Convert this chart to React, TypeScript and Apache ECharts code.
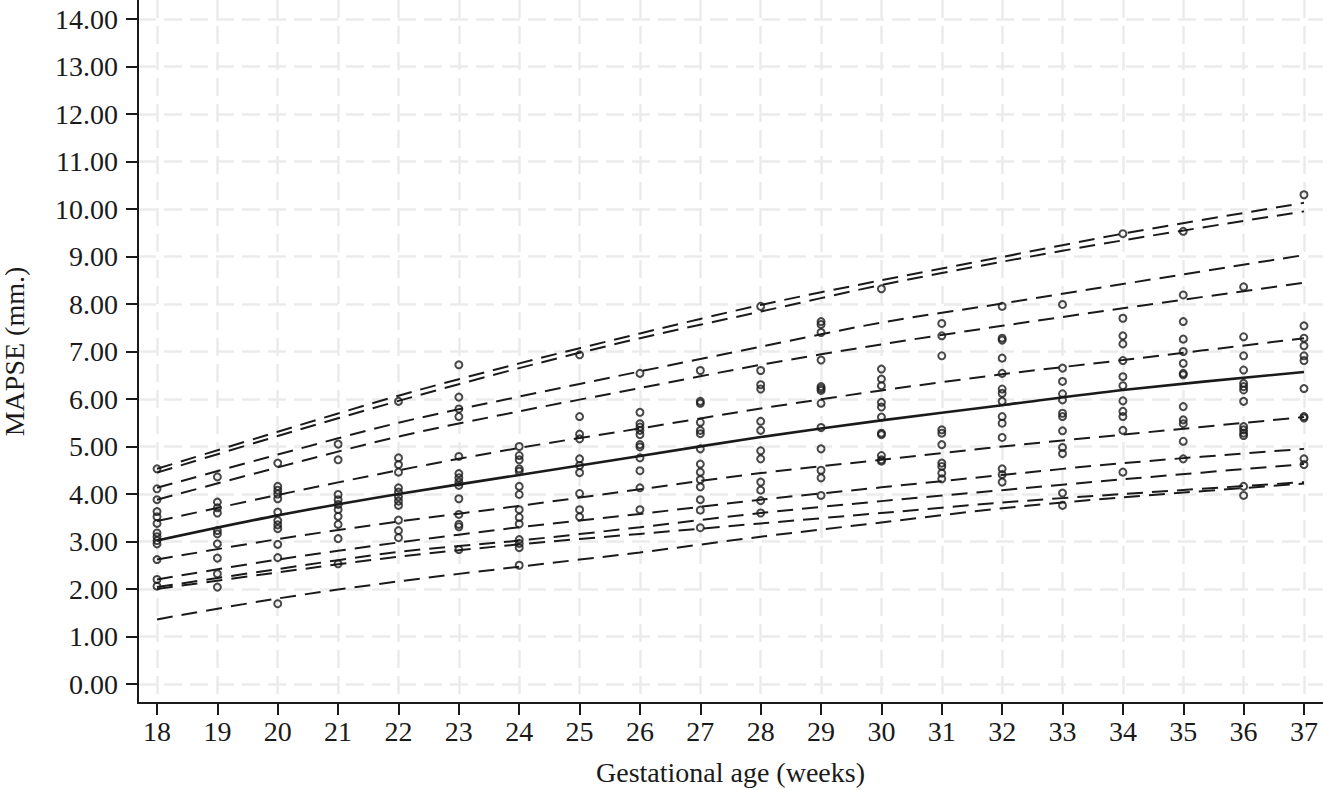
import { useEffect, useRef } from 'react';
import * as echarts from 'echarts';

// gestational weeks on the x axis
const weeks = [18, 19, 20, 21, 22, 23, 24, 25, 26, 27, 28, 29, 30, 31, 32, 33, 34, 35, 36, 37];

// observed MAPSE (mm) per week, same order as weeks
const mapseByWeek: number[][] = [
    [4.53, 4.11, 3.88, 3.63, 3.52, 3.38, 3.18, 3.10, 3.02, 2.95, 2.62, 2.20, 2.06],
    [4.36, 3.83, 3.71, 3.60, 3.23, 3.16, 2.95, 2.65, 2.32, 2.04],
    [4.65, 4.16, 4.08, 4.00, 3.90, 3.62, 3.44, 3.35, 3.27, 2.94, 2.66, 1.69],
    [5.05, 4.72, 3.99, 3.88, 3.78, 3.67, 3.53, 3.36, 3.06, 2.53],
    [5.95, 4.76, 4.62, 4.46, 4.13, 4.04, 3.94, 3.85, 3.76, 3.45, 3.23, 3.08],
    [6.72, 6.04, 5.79, 5.63, 4.79, 4.43, 4.34, 4.25, 4.18, 3.90, 3.57, 3.36, 3.31, 2.83],
    [5.00, 4.81, 4.72, 4.53, 4.48, 4.16, 3.99, 3.67, 3.51, 3.37, 3.04, 2.96, 2.87, 2.50],
    [6.93, 5.63, 5.26, 5.16, 4.74, 4.60, 4.45, 4.01, 3.67, 3.52],
    [6.54, 5.72, 5.48, 5.41, 5.34, 5.25, 5.04, 4.99, 4.76, 4.49, 4.13, 3.67],
    [6.60, 5.95, 5.91, 5.51, 5.34, 5.27, 4.95, 4.63, 4.46, 4.30, 4.15, 3.88, 3.66, 3.29],
    [7.95, 6.60, 6.30, 6.21, 5.53, 5.34, 4.91, 4.74, 4.25, 4.08, 3.86, 3.60],
    [7.63, 7.57, 7.40, 6.82, 6.26, 6.22, 6.18, 5.91, 5.40, 4.95, 4.50, 4.34, 3.97],
    [8.32, 6.63, 6.42, 6.28, 5.93, 5.83, 5.62, 5.28, 5.25, 4.81, 4.72, 4.69],
    [7.59, 7.33, 6.91, 5.35, 5.28, 5.04, 4.65, 4.58, 4.44, 4.32],
    [7.95, 7.28, 7.24, 6.86, 6.54, 6.21, 6.12, 5.95, 5.63, 5.49, 5.19, 4.53, 4.41, 4.25],
    [7.99, 6.65, 6.37, 6.11, 5.98, 5.70, 5.63, 5.33, 4.98, 4.85, 4.02, 3.76],
    [9.48, 7.70, 7.33, 7.16, 6.81, 6.47, 6.28, 5.96, 5.74, 5.63, 5.34, 4.46],
    [9.53, 8.19, 7.63, 7.26, 7.00, 6.75, 6.54, 6.51, 5.84, 5.56, 5.48, 5.11, 4.74],
    [8.36, 7.31, 6.91, 6.61, 6.33, 6.26, 6.19, 5.95, 5.42, 5.35, 5.28, 5.23, 4.16, 3.97],
    [10.30, 7.54, 7.28, 7.12, 6.91, 6.81, 6.22, 5.63, 5.60, 4.74, 4.62],
];

// reference curves, read at these weeks
const curveWeeks = [18, 20, 22, 24, 26, 28, 30, 32, 34, 37];
const upper1 = [4.53, 5.31, 6.07, 6.75, 7.38, 7.98, 8.50, 8.99, 9.48, 10.13];
const upper2 = [4.45, 5.22, 5.96, 6.65, 7.28, 7.84, 8.40, 8.89, 9.34, 9.95];
const upper3 = [4.13, 4.83, 5.50, 6.05, 6.58, 7.10, 7.61, 8.01, 8.42, 9.03];
const upper4 = [3.88, 4.56, 5.21, 5.74, 6.23, 6.72, 7.15, 7.54, 7.91, 8.45];
const upper5 = [3.43, 3.98, 4.50, 4.97, 5.38, 5.80, 6.18, 6.52, 6.82, 7.28];
const median = [3.02, 3.55, 4.00, 4.40, 4.80, 5.20, 5.55, 5.87, 6.19, 6.57];
const lower1 = [2.62, 3.05, 3.42, 3.75, 4.10, 4.44, 4.72, 5.00, 5.25, 5.62];
const lower2 = [2.20, 2.62, 2.98, 3.30, 3.58, 3.88, 4.14, 4.40, 4.65, 4.95];
const lower3 = [2.04, 2.42, 2.78, 3.02, 3.30, 3.60, 3.85, 4.08, 4.31, 4.63];
const lower4 = [2.00, 2.35, 2.68, 2.94, 3.16, 3.38, 3.60, 3.82, 4.00, 4.25];
const lower5 = [1.36, 1.80, 2.16, 2.47, 2.77, 3.10, 3.40, 3.70, 3.93, 4.22];

const yTicks = [0, 1, 2, 3, 4, 5, 6, 7, 8, 9, 10, 11, 12, 13, 14];

const FONT = "'Liberation Serif', 'Times New Roman', serif";
const INK = '#1a1a1a';

const App: React.FC = () => {
    const chartRef = useRef<HTMLDivElement>(null);

    useEffect(() => {
        if (!chartRef.current) return;
        const chart = echarts.init(chartRef.current, null, { renderer: 'svg' });

        const points = weeks.flatMap((w, i) => mapseByWeek[i].map((v) => [w, v]));

        const curve = (name: string, values: number[], solid = false) => ({
            name,
            type: 'line',
            data: curveWeeks.map((w, i) => [w, values[i]]),
            smooth: 0.3,
            symbol: 'none',
            silent: true,
            z: 2,
            lineStyle: {
                color: INK,
                width: solid ? 2.6 : 2,
                type: solid ? 'solid' : [16, 9],
            },
        });

        const gridLine = {
            show: true,
            lineStyle: { color: '#ebebeb', width: 2.5, type: [18, 8] },
        };

        const option: any = {
            animation: false,
            backgroundColor: '#ffffff',
            grid: { left: 138, right: 0, top: 0, bottom: 87, containLabel: false, outerBoundsMode: 'none' },
            xAxis: {
                type: 'value',
                min: 17.685,
                max: 37.315,
                name: 'Gestational age (weeks)',
                nameLocation: 'middle',
                nameGap: 55,
                nameTextStyle: { fontFamily: FONT, fontSize: 28, color: INK },
                axisLine: { show: true, onZero: false, lineStyle: { color: INK, width: 2 } },
                axisTick: { show: true, length: 12, customValues: weeks, lineStyle: { color: INK, width: 2 } },
                axisLabel: { customValues: weeks, fontFamily: FONT, fontSize: 28, color: INK, margin: 14 },
                splitLine: gridLine,
            },
            yAxis: {
                type: 'value',
                min: -0.4,
                max: 14.4,
                name: 'MAPSE (mm.)',
                nameLocation: 'middle',
                nameGap: 110,
                nameTextStyle: { fontFamily: FONT, fontSize: 28, color: INK },
                axisLine: { show: true, onZero: false, lineStyle: { color: INK, width: 2 } },
                axisTick: { show: true, length: 12, customValues: yTicks, lineStyle: { color: INK, width: 2 } },
                axisLabel: {
                    customValues: yTicks,
                    fontFamily: FONT,
                    fontSize: 28,
                    color: INK,
                    margin: 20,
                    formatter: (v: number) => v.toFixed(2),
                },
                splitLine: gridLine,
            },
            series: [
                curve('upper1', upper1),
                curve('upper2', upper2),
                curve('upper3', upper3),
                curve('upper4', upper4),
                curve('upper5', upper5),
                curve('median', median, true),
                curve('lower1', lower1),
                curve('lower2', lower2),
                curve('lower3', lower3),
                curve('lower4', lower4),
                curve('lower5', lower5),
                {
                    name: 'MAPSE',
                    type: 'scatter',
                    data: points,
                    symbol: 'circle',
                    symbolSize: 7,
                    z: 3,
                    itemStyle: { color: 'rgba(255,255,255,0)', borderColor: INK, borderWidth: 2 },
                },
            ],
        };

        chart.setOption(option);
        return () => {
            chart.dispose();
        };
    }, []);

    return (
        <div
            ref={chartRef}
            style={{ position: 'fixed', left: 0, top: 0, width: '1323px', height: '790px' }}
        />
    );
};

export default App;
